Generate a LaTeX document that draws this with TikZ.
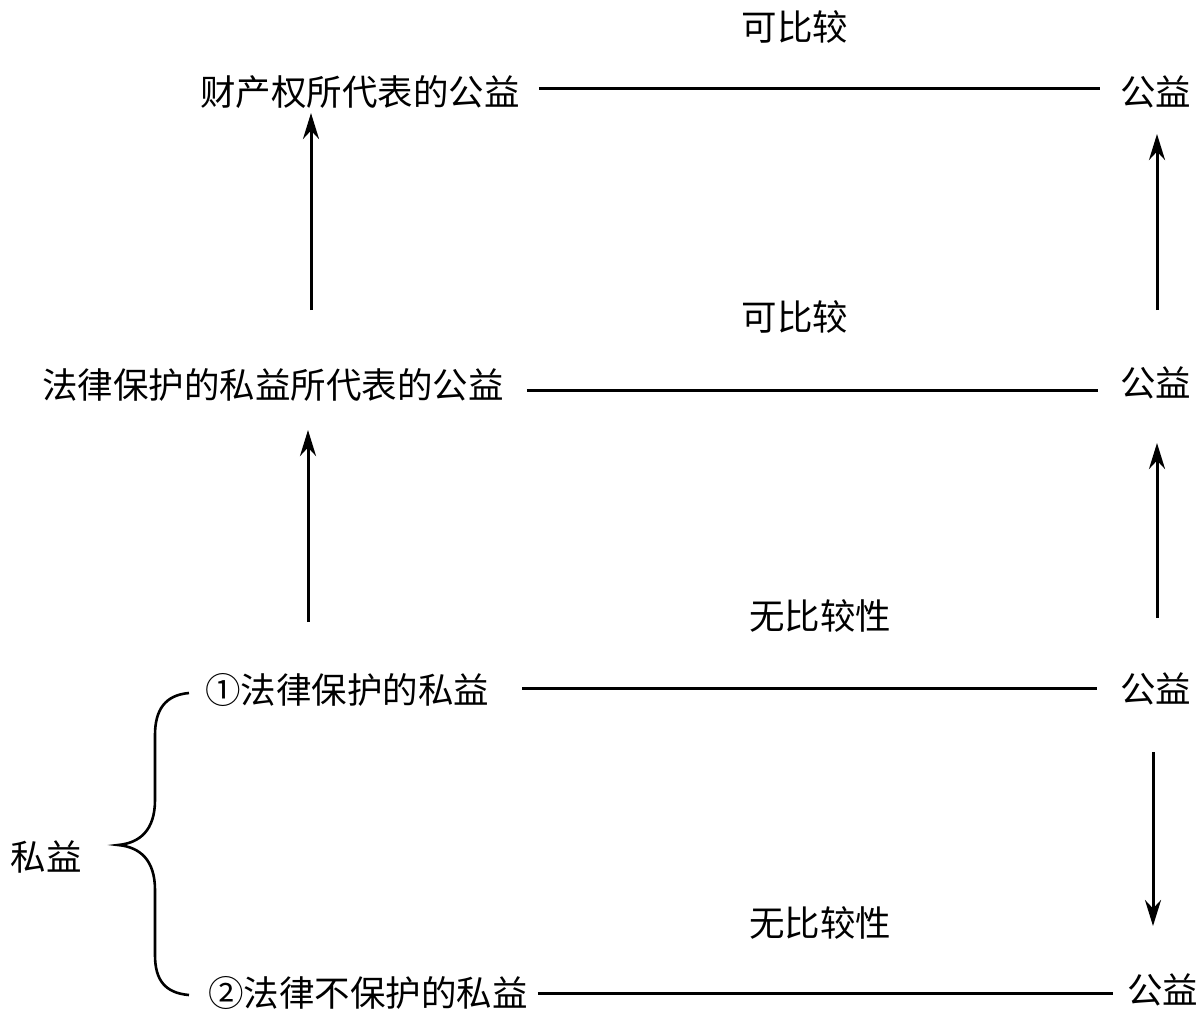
\documentclass[tikz,border=0pt]{standalone}
\usepackage{fontspec}
\setmainfont{Noto Sans CJK SC}
\usetikzlibrary{arrows.meta}
\begin{document}
\begin{tikzpicture}[x=1pt,y=-1pt,
  lbl/.style={inner sep=0pt,font=\fontsize{35.5}{40}\selectfont},
  conn/.style={line width=3pt},
  arr/.style={line width=3pt,-{Stealth[length=26pt,width=16pt]}}]
\useasboundingbox (0,0) rectangle (1201,1018);
% row 1
\node[lbl] (c1) at (795,27) {可比较};
\node[lbl,anchor=west] (l1) at (200,92) {财产权所代表的公益};
\node[lbl,anchor=west] (r1) at (1120,92) {公益};
\draw[conn,shorten <=19pt,shorten >=20pt] (l1.east |- 0,88) -- (r1.west |- 0,88);
% row 2
\node[lbl] (c2) at (795,317) {可比较};
\node[lbl,anchor=west] (l2) at (42,385) {法律保护的私益所代表的公益};
\node[lbl,anchor=west] (r2) at (1120,383) {公益};
\draw[conn,shorten <=23pt,shorten >=22pt] (l2.east |- 0,390) -- (r2.west |- 0,390);
% row 3
\node[lbl] (c3) at (820,616) {无比较性};
\node[lbl,anchor=west] (l3) at (205,690) {①法律保护的私益};
\node[lbl,anchor=west] (r3) at (1120,689) {公益};
\draw[conn,shorten <=33pt,shorten >=23pt] (l3.east |- 0,688) -- (r3.west |- 0,688);
% row 4
\node[lbl] (c4) at (820,923) {无比较性};
\node[lbl,anchor=west] (l4) at (208,993) {②法律不保护的私益};
\node[lbl,anchor=west] (r4) at (1127,990) {公益};
\draw[conn,shorten <=10pt,shorten >=14pt] (l4.east |- 0,993) -- (r4.west |- 0,993);
% private interest and brace
\node[lbl] (p) at (46,857) {私益};
\coordinate (bt) at (189,693);
\coordinate (bb) at (189,995);
\coordinate (bm) at (118,845);
\draw[line width=2.6pt]
  (bt) .. controls (165,695) and (155,710) .. (155,735)
  -- (155,800) .. controls (155,830) and (140,843) .. (bm)
  .. controls (140,847) and (155,860) .. (155,890)
  -- (155,955) .. controls (155,980) and (165,993) .. (bb);
% vertical arrows, left
\coordinate (a1s) at (311,310); \coordinate (a1e) at (311,113);
\draw[arr] (a1s) -- (a1e);
\coordinate (a2s) at (308,622); \coordinate (a2e) at (308,430);
\draw[arr] (a2s) -- (a2e);
% vertical arrows, right
\coordinate (a3s) at (1157,310); \coordinate (a3e) at (1157,134);
\draw[arr] (a3s) -- (a3e);
\coordinate (a4s) at (1157,618); \coordinate (a4e) at (1157,443);
\draw[arr] (a4s) -- (a4e);
\coordinate (a5s) at (1153,752); \coordinate (a5e) at (1153,926);
\draw[arr] (a5s) -- (a5e);
\end{tikzpicture}
\end{document}
